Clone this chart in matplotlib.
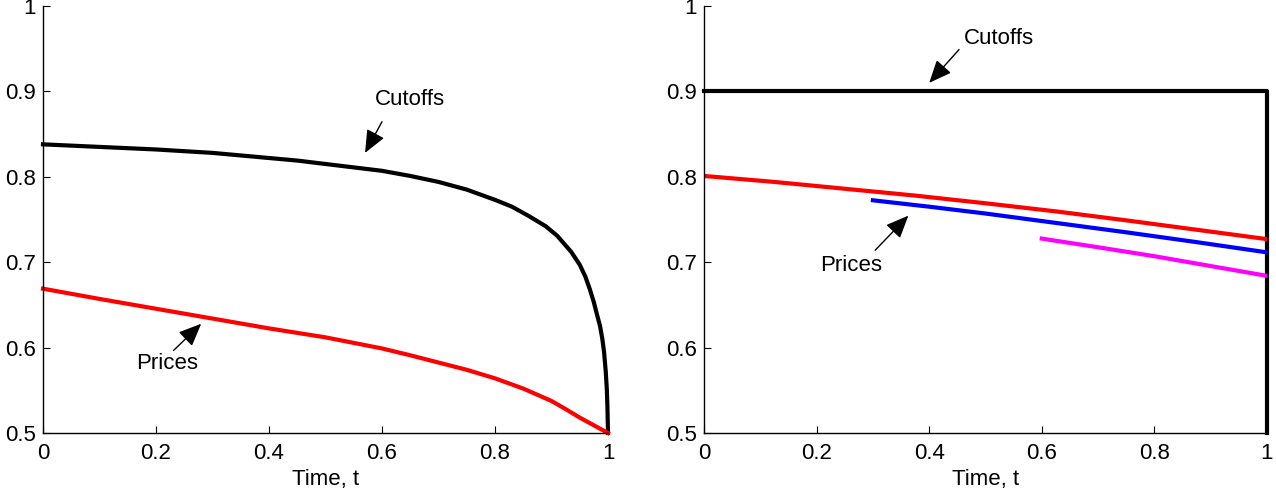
import matplotlib
matplotlib.use("Agg")
import matplotlib.pyplot as plt
from matplotlib.ticker import FuncFormatter

plt.rcParams["font.family"] = ["Liberation Sans", "DejaVu Sans"]

# left panel: cutoff and price paths over time
t_cut = [0.0, 0.05, 0.1, 0.15, 0.2, 0.25, 0.3, 0.35, 0.4, 0.45, 0.5, 0.55,
         0.6, 0.65, 0.7, 0.75, 0.8, 0.83, 0.86, 0.89, 0.91, 0.935, 0.95,
         0.96, 0.968, 0.975, 0.98, 0.986, 0.99, 0.993, 0.996, 0.998, 0.999,
         1.0]
cutoff = [0.838, 0.8365, 0.835, 0.8335, 0.832, 0.830, 0.828, 0.825, 0.822,
          0.819, 0.815, 0.811, 0.807, 0.801, 0.794, 0.785, 0.773, 0.765,
          0.754, 0.742, 0.731, 0.712, 0.697, 0.683, 0.668, 0.653, 0.640,
          0.625, 0.610, 0.595, 0.572, 0.550, 0.530, 0.5]
t_price = [0.0, 0.1, 0.2, 0.3, 0.4, 0.5, 0.55, 0.6, 0.65, 0.7, 0.75, 0.8,
           0.85, 0.9, 0.925, 0.95, 0.975, 1.0]
price = [0.669, 0.657, 0.6455, 0.634, 0.6225, 0.612, 0.6055, 0.599, 0.591,
         0.5825, 0.574, 0.564, 0.552, 0.5375, 0.528, 0.518, 0.509, 0.5]

# right panel: flat cutoff with three price paths starting at 0, 0.3, 0.6
t_cut2 = [0.0, 1.0, 1.0]
cutoff2 = [0.9, 0.9, 0.5]
t_red = [0.0, 0.125, 0.25, 0.375, 0.5, 0.625, 0.75, 0.875, 1.0]
p_red = [0.801, 0.794, 0.786, 0.778, 0.769, 0.7595, 0.749, 0.738, 0.727]
t_blue = [0.3, 0.4, 0.5, 0.625, 0.75, 0.875, 1.0]
p_blue = [0.7725, 0.765, 0.757, 0.746, 0.735, 0.7235, 0.7115]
t_mag = [0.6, 0.7, 0.8, 0.9, 1.0]
p_mag = [0.7276, 0.7175, 0.707, 0.6955, 0.684]

xticks = [0, 0.2, 0.4, 0.6, 0.8, 1]
yticks = [0.5, 0.6, 0.7, 0.8, 0.9, 1]

fig = plt.figure(figsize=(12.76, 4.97), dpi=100)
axL = fig.add_axes([43 / 1276, 1 - 433 / 497, 565 / 1276, 427 / 497])
axR = fig.add_axes([704 / 1276, 1 - 433 / 497, 563 / 1276, 427 / 497])

FS = 16
fmt = FuncFormatter(lambda v, p: "%g" % v)
for ax in (axL, axR):
    ax.set_xlim(0, 1)
    ax.set_ylim(0.5, 1)
    ax.set_xticks(xticks)
    ax.set_yticks(yticks)
    ax.xaxis.set_major_formatter(fmt)
    ax.yaxis.set_major_formatter(fmt)
    ax.spines["top"].set_visible(False)
    ax.spines["right"].set_visible(False)
    for s in ("left", "bottom"):
        ax.spines[s].set_linewidth(1.0)
    ax.tick_params(direction="in", length=5, width=0.8, labelsize=FS, pad=5)
    ax.tick_params(axis="x", pad=7)
    ax.set_xlabel("Time, t", fontsize=FS, labelpad=4)

LW = 3.0
axL.plot(t_cut, cutoff, color="black", lw=LW, clip_on=False)
axL.plot(t_price, price, color="red", lw=LW, clip_on=False)

axR.plot(t_cut2, cutoff2, color="black", lw=LW, clip_on=False)
axR.plot(t_red, p_red, color="red", lw=LW)
axR.plot(t_blue, p_blue, color="blue", lw=LW)
axR.plot(t_mag, p_mag, color="magenta", lw=LW)

arrow = dict(arrowstyle="-|>,head_length=0.7,head_width=0.3",
             color="black", lw=1.0, mutation_scale=20, shrinkA=0, shrinkB=0)


def label(ax, text, txy, tail, head):
    ax.text(txy[0], txy[1], text, fontsize=FS, ha="center", va="center")
    ax.annotate("", xy=head, xytext=tail, arrowprops=arrow)


label(axL, "Cutoffs", (0.650, 0.8906), (0.600, 0.8645), (0.570, 0.828))
label(axL, "Prices", (0.219, 0.5818), (0.231, 0.5966), (0.280, 0.6279))
label(axR, "Cutoffs", (0.523, 0.9618), (0.453, 0.949), (0.400, 0.910))
label(axR, "Prices", (0.262, 0.696), (0.304, 0.714), (0.363, 0.7545))

fig.savefig("out.png", dpi=100, facecolor="white")
